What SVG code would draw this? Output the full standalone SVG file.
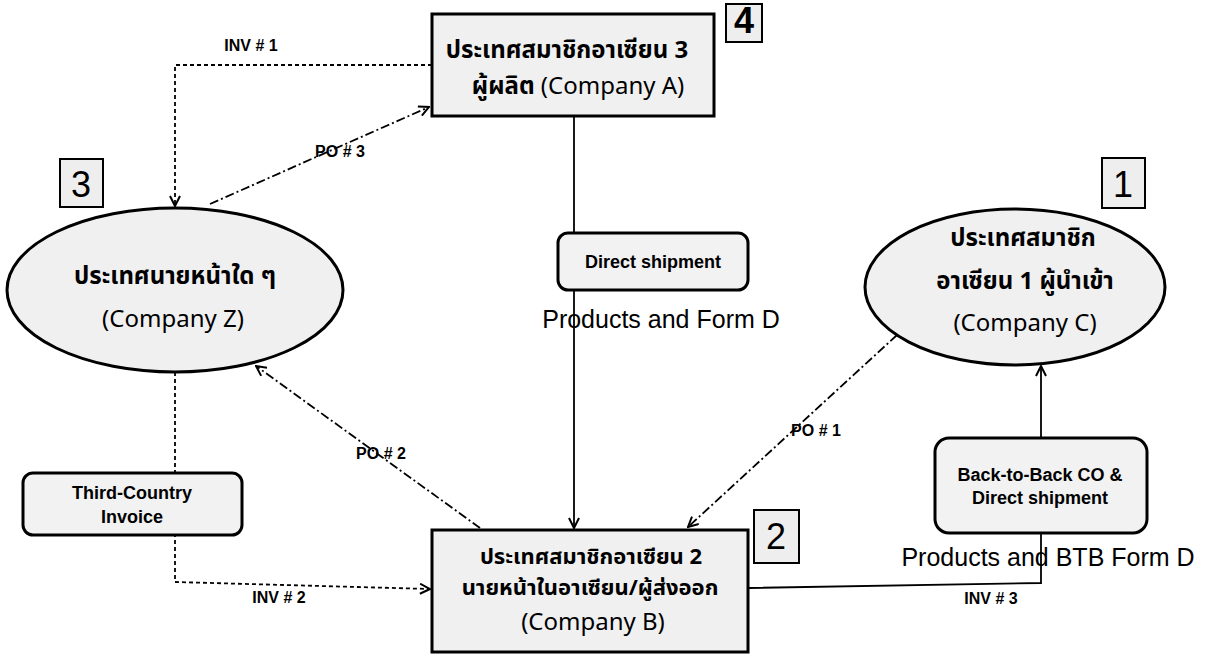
<svg xmlns="http://www.w3.org/2000/svg" width="1208" height="656" viewBox="0 0 1208 656">
<style>
.bg{fill:#ffffff}
.node{fill:#f0f0f0;stroke:#000;stroke-width:3}
.badge{fill:#eeeeee;stroke:#000;stroke-width:2}
.tag{fill:#f2f2f2;stroke:#000;stroke-width:3}
.th{font-family:"Noto Sans Thai","Noto Sans","DejaVu Sans",sans-serif;font-weight:bold;font-size:24px;fill:#000;text-anchor:middle}
.thb{font-size:22px}
.co{font-family:"Noto Sans","Liberation Sans",sans-serif;font-weight:normal}
.num{font-family:"Liberation Sans",sans-serif;font-size:36px;fill:#000;text-anchor:middle}
.lbl{font-family:"Liberation Sans",sans-serif;font-weight:bold;font-size:16px;fill:#000;text-anchor:middle}
.tagt{font-family:"Liberation Sans",sans-serif;font-weight:bold;font-size:18px;fill:#000;text-anchor:middle}
.prod{font-family:"Liberation Sans",sans-serif;font-size:25px;fill:#000;text-anchor:middle}
.solid{fill:none;stroke:#000;stroke-width:1.8}
.dash{fill:none;stroke:#000;stroke-width:1.8;stroke-dasharray:4 3}
.dashdot{fill:none;stroke:#000;stroke-width:1.8;stroke-dasharray:9 3 2 3}
</style>
<defs>
<marker id="arr" viewBox="0 0 12 12" refX="11" refY="6" markerWidth="12" markerHeight="12" markerUnits="userSpaceOnUse" orient="auto">
<path d="M1,1 L11,6 L1,11" fill="none" stroke="#000" stroke-width="2"/>
</marker>
</defs>
<rect class="bg" x="0" y="0" width="1208" height="656"/>

<g id="connectors">
<polyline class="dash" points="432,65 175,65 175,206" marker-end="url(#arr)"/>
<line class="dashdot" x1="210" y1="204" x2="429" y2="107" marker-end="url(#arr)"/>
<line class="solid" x1="574" y1="116" x2="574" y2="528" marker-end="url(#arr)"/>
<line class="dashdot" x1="480" y1="528" x2="256" y2="366" marker-end="url(#arr)"/>
<line class="dashdot" x1="897" y1="335" x2="688" y2="527" marker-end="url(#arr)"/>
<polyline class="dash" points="175,372 175,582 430,589" marker-end="url(#arr)"/>
<polyline class="solid" points="748,588 1041,583 1041,366" marker-end="url(#arr)"/>
<text class="lbl" x="251" y="51">INV # 1</text>
<text class="lbl" x="340" y="157">PO # 3</text>
<text class="lbl" x="381" y="459">PO # 2</text>
<text class="lbl" x="816" y="436">PO # 1</text>
<text class="lbl" x="279" y="603">INV # 2</text>
<text class="lbl" x="991" y="604">INV # 3</text>
</g>

<g id="companyA">
<rect class="node" x="432" y="14" width="282" height="102"/>
<text class="th" x="567" y="58">ประเทศสมาชิกอาเซียน 3</text>
<text class="th" x="578" y="94">ผู้ผลิต <tspan class="co">(Company A)</tspan></text>
</g>
<g id="badge4">
<rect class="badge" x="726" y="4" width="36" height="38"/>
<text class="num" x="744" y="33" font-size="28" font-weight="bold">4</text>
</g>

<g id="companyZ">
<ellipse class="node" cx="175" cy="290" rx="168" ry="82"/>
<text class="th" x="175" y="284">ประเทศนายหน้าใด ๆ</text>
<text class="th co" x="173" y="327">(Company Z)</text>
</g>
<g id="badge3">
<rect class="badge" x="60" y="159" width="43" height="48"/>
<text class="num" x="81" y="197">3</text>
</g>

<g id="companyC">
<ellipse class="node" cx="1015" cy="287" rx="150" ry="78"/>
<text class="th" x="1023" y="246">ประเทศสมาชิก</text>
<text class="th" x="1025" y="289">อาเซียน 1 ผู้นำเข้า</text>
<text class="th co" x="1025" y="331">(Company C)</text>
</g>
<g id="badge1">
<rect class="badge" x="1102" y="158" width="43" height="50"/>
<text class="num" x="1123" y="197">1</text>
</g>

<g id="directShipment">
<rect class="tag" x="558" y="233" width="190" height="57" rx="10"/>
<text class="tagt" x="653" y="268">Direct shipment</text>
<text class="prod" x="661" y="328">Products and Form D</text>
</g>

<g id="thirdCountryInvoice">
<rect class="tag" x="23" y="473" width="219" height="62" rx="10"/>
<text class="tagt" x="132" y="499">Third-Country</text>
<text class="tagt" x="132" y="523">Invoice</text>
</g>

<g id="companyB">
<rect class="node" x="432" y="530" width="316" height="122"/>
<text class="th thb" x="591" y="564">ประเทศสมาชิกอาเซียน 2</text>
<text class="th thb" x="590" y="595">นายหน้าในอาเซียน/ผู้ส่งออก</text>
<text class="th co" x="593" y="630">(Company B)</text>
</g>
<g id="badge2">
<rect class="badge" x="754" y="510" width="45" height="53"/>
<text class="num" x="776" y="549">2</text>
</g>

<g id="backToBack">
<rect class="tag" x="935" y="438" width="212" height="95" rx="14"/>
<text class="tagt" x="1040" y="481">Back-to-Back CO &amp;</text>
<text class="tagt" x="1040" y="504">Direct shipment</text>
<text class="prod" x="1048" y="566">Products and BTB Form D</text>
</g>
</svg>
